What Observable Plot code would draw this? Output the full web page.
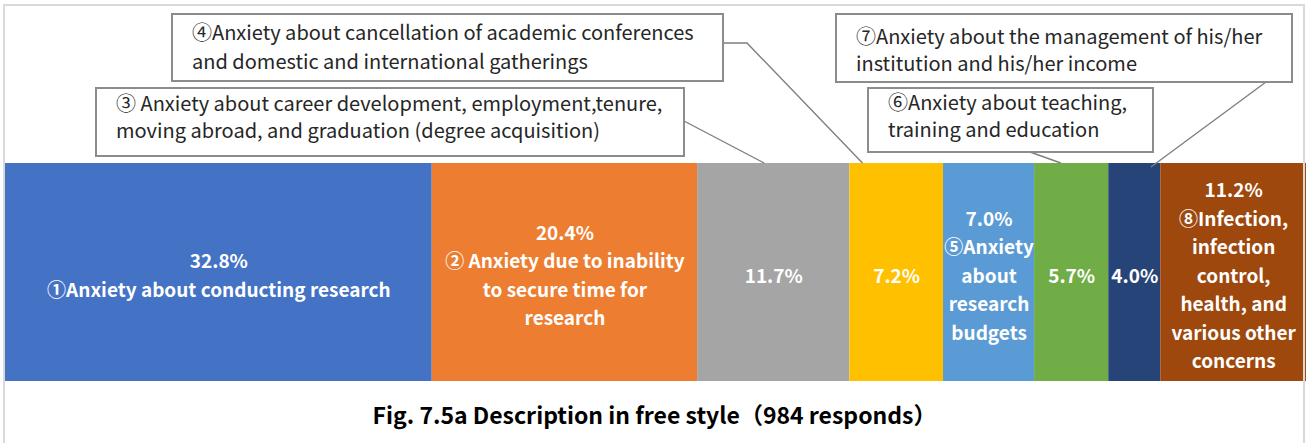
<!DOCTYPE html>
<html>
<head>
<meta charset="utf-8">
<script src="https://cdn.jsdelivr.net/npm/d3@7"></script>
<script src="https://cdn.jsdelivr.net/npm/@observablehq/plot@0.6"></script>
<style>
  html, body { margin: 0; padding: 0; background: #fff; }
  #wrap { position: relative; width: 1309px; height: 443px; overflow: hidden; background: #fff;
          font-family: "Noto Sans CJK JP", "Noto Sans", sans-serif; }
  #frame { position: absolute; left: 3px; top: 4px; width: 1302px; height: 460px;
           border: 2px solid #d9d9d9; box-sizing: border-box; pointer-events: none; }
  #chart svg { display: block; }
  #title { position: absolute; left: 0; width: 1309px; top: 398px; text-align: center;
           font-size: 23px; line-height: 32px; font-weight: bold; color: #000; }
</style>
</head>
<body>
<div id="wrap">
  <div id="chart"></div>
  <div id="title">Fig. 7.5a Description in free style（984 responds）</div>
  <div id="frame"></div>
</div>
<script>
// ---- data ----
const categories = ["①", "②", "③", "④", "⑤", "⑥", "⑦", "⑧"];
const values = [32.8, 20.4, 11.7, 7.2, 7.0, 5.7, 4.0, 11.2];
const percentLabels = ["32.8%", "20.4%", "11.7%", "7.2%", "7.0%", "5.7%", "4.0%", "11.2%"];
const innerLabels = [
  "①Anxiety about conducting research",
  "② Anxiety due to inability\nto secure time for\nresearch",
  "",
  "",
  "⑤Anxiety\nabout\nresearch\nbudgets",
  "",
  "",
  "⑧Infection,\ninfection\ncontrol,\nhealth, and\nvarious other\nconcerns"
];
const colors = ["#4472C4", "#ED7D31", "#A5A5A5", "#FFC000", "#5B9BD5", "#70AD47", "#264478", "#9E480E"];
const calloutCategories = ["③", "④", "⑥", "⑦"];
const calloutTexts = [
  "③ Anxiety about career development, employment,tenure,\nmoving abroad, and graduation (degree acquisition)",
  "④Anxiety about cancellation of academic conferences\nand domestic and international gatherings",
  "⑥Anxiety about teaching,\ntraining and education",
  "⑦Anxiety about the management of his/her\ninstitution and his/her income"
];

const data = categories.map((c, i) => ({
  cat: c,
  value: values[i],
  label: percentLabels[i] + (innerLabels[i] ? "\n" + innerLabels[i] : "")
}));

const W = 1309, H = 395;
const chart = Plot.plot({
  width: W,
  height: H,
  marginLeft: 5,
  marginRight: 3,
  marginTop: 163,
  marginBottom: 14,
  x: { domain: [0, 100], axis: null },
  color: { domain: categories, range: colors },
  style: { fontFamily: "'Noto Sans CJK JP', 'Noto Sans', sans-serif", background: "transparent" },
  marks: [
    Plot.barX(data, Plot.stackX({ x: "value", fill: "cat", order: null })),
    Plot.text(data, Plot.stackX({
      x: "value", text: "label", order: null,
      fill: "white", fontSize: 19, fontWeight: "bold", lineHeight: 1.5,
      frameAnchor: "middle", dy: 1
    }))
  ]
});
document.getElementById("chart").appendChild(chart);

// ---- callouts (layout in pixels, anchors from the x scale) ----
const xs = chart.scale("x");
const cum = {};
let acc = 0;
categories.forEach((c, i) => { cum[c] = [acc, acc + values[i]]; acc += values[i]; });
const anchorAt = (c, f) => xs.apply(cum[c][0] + f * (cum[c][1] - cum[c][0]));

const layout = {
  "③": { x: 96, y: 88, w: 588, h: 68, lh: 27, ty: 104, frac: 0.44, ay: 163, from: [684, 121], bend: null },
  "④": { x: 172, y: 14, w: 551, h: 67, lh: 29, ty: 33, frac: 0.14, ay: 163, from: [723, 43], bend: [747, 43] },
  "⑥": { x: 868, y: 88, w: 285, h: 64, lh: 27, ty: 103, frac: 0.36, ay: 163, from: [1030, 152], bend: null },
  "⑦": { x: 836, y: 14, w: 456, h: 68, lh: 27, ty: 37, frac: 0.82, ay: 167, from: [1266, 82], bend: null }
};

const svg = d3.select(chart);
const g = svg.append("g").attr("text-anchor", "start");
calloutCategories.forEach((c, i) => {
  const L = layout[c];
  const ax = anchorAt(c, L.frac);
  const pts = [L.from];
  if (L.bend) pts.push(L.bend);
  pts.push([ax, L.ay]);
  g.append("path")
    .attr("d", d3.line()(pts))
    .attr("fill", "none").attr("stroke", "#7f7f7f").attr("stroke-width", 1.4);
  g.append("rect")
    .attr("x", L.x).attr("y", L.y).attr("width", L.w).attr("height", L.h)
    .attr("fill", "#fff").attr("stroke", "#8c8c8c").attr("stroke-width", 2);
  const t = g.append("text")
    .attr("font-size", 20).attr("fill", "#262626").attr("text-anchor", "start")
    .attr("font-family", "'Noto Sans CJK JP', 'Noto Sans', sans-serif");
  calloutTexts[i].split("\n").forEach((line, k) => {
    t.append("tspan").attr("x", L.x + 20).attr("y", L.ty + k * L.lh).attr("dy", "0.35em").text(line);
  });
});
</script>
</body>
</html>
